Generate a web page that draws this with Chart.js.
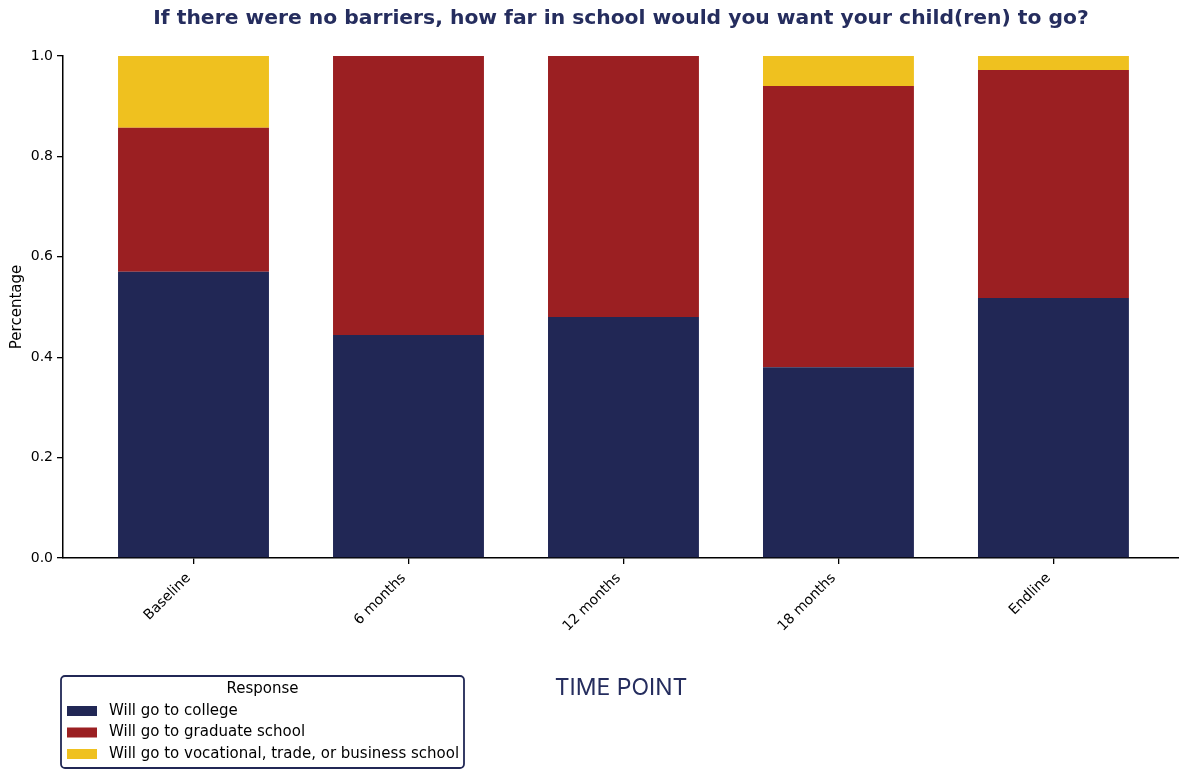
<!DOCTYPE html>
<html>
<head>
<meta charset="utf-8">
<script src="https://cdn.jsdelivr.net/npm/chart.js@4"></script>
<style>
html, body { margin: 0; padding: 0; background: #fff; }
#wrap { width: 1179px; height: 769px; position: relative; }
</style>
</head>
<body>
<div id="wrap"><canvas id="schoolChart"></canvas></div>
<script>
// дані з графіка
var timePoints = ['Baseline', '6 months', '12 months', '18 months', 'Endline'];
var collegeShare = [0.570, 0.444, 0.480, 0.380, 0.518];
var graduateShare = [0.287, 0.556, 0.520, 0.560, 0.454];
var vocationalShare = [0.143, 0, 0, 0.060, 0.028];
var responseLabels = [
    'Will go to college',
    'Will go to graduate school',
    'Will go to vocational, trade, or business school'
];
var yTicks = [0, 0.2, 0.4, 0.6, 0.8, 1.0];

var NAVY = '#212755';
var TEXT_NAVY = '#252d5e';

function points(values) {
    return values.map(function (v, i) { return { x: i, y: v }; });
}

// легенда в рамці знизу зліва
var legendBox = {
    id: 'legendBox',
    afterDraw: function (chart) {
        var ctx = chart.ctx;
        var x0 = 61, y0 = 676, w = 403, h = 92, r = 4;
        ctx.save();
        ctx.beginPath();
        ctx.moveTo(x0 + r, y0);
        ctx.arcTo(x0 + w, y0, x0 + w, y0 + h, r);
        ctx.arcTo(x0 + w, y0 + h, x0, y0 + h, r);
        ctx.arcTo(x0, y0 + h, x0, y0, r);
        ctx.arcTo(x0, y0, x0 + w, y0, r);
        ctx.closePath();
        ctx.fillStyle = '#fff';
        ctx.fill();
        ctx.lineWidth = 1.8;
        ctx.strokeStyle = NAVY;
        ctx.stroke();

        ctx.fillStyle = '#000';
        ctx.font = '15px "DejaVu Sans"';
        ctx.textBaseline = 'middle';
        ctx.textAlign = 'center';
        ctx.fillText('Response', x0 + w / 2, 689);
        ctx.textAlign = 'left';
        chart.data.datasets.forEach(function (ds, i) {
            var cy = 711 + i * 21.5;
            ctx.fillStyle = ds.backgroundColor;
            ctx.fillRect(67, cy - 5, 30, 10);
            ctx.fillStyle = '#000';
            ctx.fillText(ds.label, 109, cy);
        });
        ctx.restore();
    }
};

new Chart(document.getElementById('schoolChart'), {
    type: 'bar',
    data: {
        datasets: [
            { label: responseLabels[0], data: points(collegeShare), backgroundColor: NAVY },
            { label: responseLabels[1], data: points(graduateShare), backgroundColor: '#9b1f22' },
            { label: responseLabels[2], data: points(vocationalShare), backgroundColor: '#efc11f' }
        ]
    },
    options: {
        responsive: true,
        maintainAspectRatio: false,
        animation: false,
        layout: { padding: { left: 0, right: 0, top: 0, bottom: 0 } },
        datasets: { bar: { barPercentage: 0.702, categoryPercentage: 1.0 } },
        plugins: {
            legend: { display: false },
            tooltip: { enabled: false },
            title: {
                display: true,
                fullSize: false,
                text: 'If there were no barriers, how far in school would you want your child(ren) to go?',
                color: TEXT_NAVY,
                font: { family: 'DejaVu Sans', weight: 'bold', size: 20.3 },
                padding: { top: 7, bottom: 24.6 }
            }
        },
        scales: {
            x: {
                type: 'linear',
                stacked: true,
                offset: false,
                min: -0.607,
                max: 4.584,
                afterBuildTicks: function (scale) {
                    scale.ticks = timePoints.map(function (t, i) { return { value: i }; });
                },
                afterFit: function (scale) { scale.height = 211; },
                ticks: {
                    color: '#000',
                    font: { family: 'DejaVu Sans', size: 14 },
                    maxRotation: 45,
                    minRotation: 45,
                    padding: 6,
                    labelOffset: -5,
                    callback: function (v) { return timePoints[v]; }
                },
                grid: { offset: false, drawOnChartArea: false, tickLength: 6, color: '#000', lineWidth: 1.3 },
                border: { color: '#000', width: 1.5 },
                title: {
                    display: true,
                    text: 'TIME POINT',
                    color: TEXT_NAVY,
                    font: { family: 'Inter', size: 23 },
                    padding: { top: 0, bottom: 67 }
                }
            },
            y: {
                stacked: true,
                min: 0,
                max: 1,
                afterBuildTicks: function (scale) {
                    scale.ticks = yTicks.map(function (v) { return { value: v }; });
                },
                afterFit: function (scale) { scale.width = 63; },
                ticks: {
                    color: '#000',
                    font: { family: 'DejaVu Sans', size: 14 },
                    padding: 4,
                    callback: function (v) { return Number(v).toFixed(1); }
                },
                grid: { drawOnChartArea: false, tickLength: 6, color: '#000', lineWidth: 1.3 },
                border: { color: '#000', width: 1.5 },
                title: {
                    display: true,
                    text: 'Percentage',
                    color: '#000',
                    font: { family: 'DejaVu Sans', size: 15 },
                    padding: { top: 8, bottom: 0 }
                }
            }
        }
    },
    plugins: [legendBox]
});
</script>
</body>
</html>
